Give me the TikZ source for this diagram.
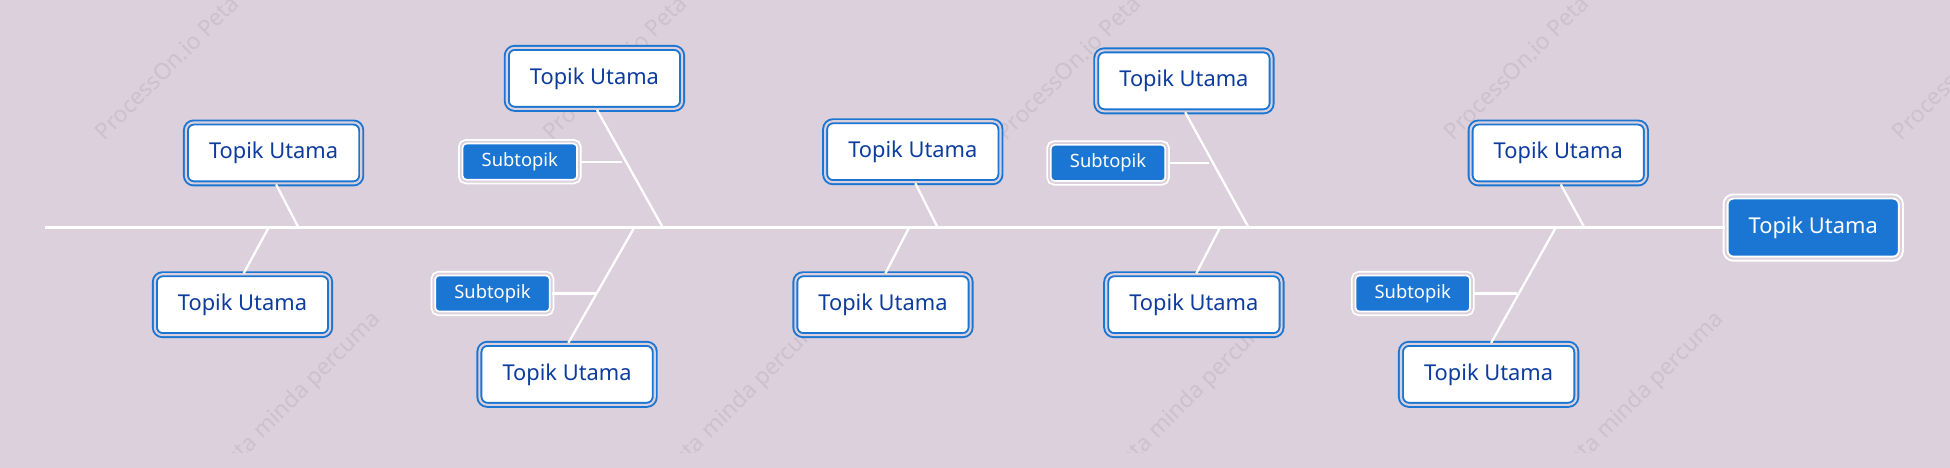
\documentclass[tikz,border=0pt]{standalone}
\usepackage{fontspec}
\setmainfont{Noto Sans}
\definecolor{bg}{HTML}{DCD0DC}
\definecolor{wm}{HTML}{CDC1CD}
\definecolor{bl}{HTML}{1A76D2}
\definecolor{tx}{HTML}{0D3C9E}
\begin{document}
\begin{tikzpicture}[x=0.05cm,y=-0.05cm,
 topic/.style={draw=bl,double=bg,line width=2.2pt,double distance=2.4pt,fill=white,rounded corners=9pt,
   minimum width=7.05cm,minimum height=2.45cm,inner sep=0pt,text=tx,font=\fontsize{25}{29}\selectfont},
 rootbox/.style={draw=white,double=bg,line width=2.2pt,double distance=2.4pt,fill=bl,rounded corners=9pt,
   minimum width=7.05cm,minimum height=2.5cm,inner sep=0pt,text=white,font=\fontsize{25}{29}\selectfont},
 sub/.style={draw=white,double=bg,line width=2pt,double distance=2.2pt,fill=bl,rounded corners=6pt,
   minimum width=4.75cm,minimum height=1.6cm,inner sep=0pt,text=white,font=\fontsize{21}{25}\selectfont},
 bone/.style={draw=white,line width=2.6pt},
 wmk/.style={text=wm,rotate=45,font=\fontsize{26}{30}\selectfont,inner sep=0pt}]
\fill[bg] (0,0) rectangle (1568,376);
\useasboundingbox (0,0) rectangle (1568,376);
% watermarks
\begin{scope}
\clip (0,0) rectangle (1568,364);
\foreach \x in {0,360,725,1085,1445} {\node[wmk] at (\x+185,6) {ProcessOn.io Peta minda percuma};}
\foreach \x in {0,360,720,1080} {\node[wmk] at (\x+199,359) {ProcessOn.io Peta minda percuma};}
\end{scope}
% nodes
\node[rootbox] (root) at (1458,183) {Topik Utama};
\coordinate (tail) at (36,183);
\node[topic] (t1) at (220,123) {Topik Utama};
\node[topic] (t2) at (478,63) {Topik Utama};
\node[topic] (t3) at (734,122) {Topik Utama};
\node[topic] (t4) at (952,65) {Topik Utama};
\node[topic] (t5) at (1253,123) {Topik Utama};
\node[topic] (b1) at (195,245) {Topik Utama};
\node[topic] (b2) at (456,301) {Topik Utama};
\node[topic] (b3) at (710,245) {Topik Utama};
\node[topic] (b4) at (960,245) {Topik Utama};
\node[topic] (b5) at (1197,301) {Topik Utama};
\node[sub] (s1) at (418,130) {Subtopik};
\node[sub] (s2) at (891,131) {Subtopik};
\node[sub] (s3) at (396,236) {Subtopik};
\node[sub] (s4) at (1136,236) {Subtopik};
% joints
\coordinate (j1) at (240,183);
\coordinate (j2) at (533,183);
\coordinate (j3) at (754,183);
\coordinate (j4) at (1004,183);
\coordinate (j5) at (1274,183);
\coordinate (k1) at (216,183);
\coordinate (k2) at (510,183);
\coordinate (k3) at (731,183);
\coordinate (k4) at (981,183);
\coordinate (k5) at (1251,183);
\coordinate (m1) at (500,130);
\coordinate (m2) at (972,131);
\coordinate (m3) at (479,236);
\coordinate (m4) at (1220,236);
% bones
\draw[bone] (tail) -- (root.west);
\draw[bone] (t1.south) ++(2,0) -- (j1);
\draw[bone] (t2.south) ++(2,0) -- (j2);
\draw[bone] (t3.south) ++(2,0) -- (j3);
\draw[bone] (t4.south) ++(1,0) -- (j4);
\draw[bone] (t5.south) ++(2,0) -- (j5);
\draw[bone] (b1.north) ++(1,0) -- (k1);
\draw[bone] (b2.north) ++(1,0) -- (k2);
\draw[bone] (b3.north) ++(2,0) -- (k3);
\draw[bone] (b4.north) ++(2,0) -- (k4);
\draw[bone] (b5.north) ++(2,0) -- (k5);
\draw[bone] (s1.east) -- (m1);
\draw[bone] (s2.east) -- (m2);
\draw[bone] (s3.east) -- (m3);
\draw[bone] (s4.east) -- (m4);
\end{tikzpicture}
\end{document}
